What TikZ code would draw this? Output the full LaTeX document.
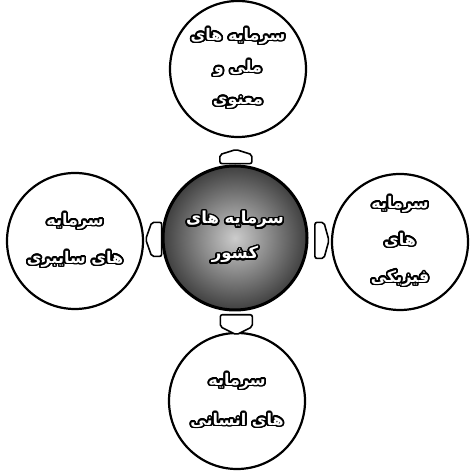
\documentclass[tikz,border=0pt]{standalone}
\usepackage{fontspec}
\newfontfamily\arabicfont[Script=Arabic]{DejaVu Sans}
\TeXXeTstate=1
\usepackage{contour}
\contourlength{1.7pt}
\contournumber{24}
\newcommand\fa[1]{\contour{black}{\arabicfont\bfseries\beginR #1\endR}}
\tikzset{
  outer/.style={circle, draw=black, line width=2.2pt, fill=white, inner sep=0pt,
    minimum size=136pt, align=center, text=white},
  middle/.style={circle, draw=black, line width=3pt, inner color=gray!40, outer color=black!75,
    inner sep=0pt, minimum size=144pt, align=center, text=white},
  conn/.style={draw=black, line width=1.6pt, fill=white, rounded corners=2pt},
}
\begin{document}
\begin{tikzpicture}[x=1pt,y=1pt]
\useasboundingbox[fill=white] (0,0) rectangle (470,473);
\node[middle, font=\fontsize{16.5}{35}\selectfont] (c) at (235,235) {\fa{سرمایه های}\\\fa{کشور}};
\node[outer, font=\fontsize{16}{32}\selectfont] (t) at (238,404) {\fa{سرمایه های}\\\fa{ملی و}\\\fa{معنوی}};
\node[outer, font=\fontsize{16}{38}\selectfont] (l) at (75,232) {\fa{سرمایه}\\\fa{های سایبری}};
\node[outer, font=\fontsize{16}{37}\selectfont] (r) at (400,231) {\fa{سرمایه}\\\fa{های}\\\fa{فیزیکی}};
\node[outer, font=\fontsize{16}{40}\selectfont] (b) at (237,72) {\fa{سرمایه}\\\fa{های انسانی}};
% connectors
\path (c.north) -- (t.south) coordinate[pos=0.3] (mt);
\path (c.west) -- (l.east) coordinate[pos=0.45] (ml);
\path (c.east) -- (r.west) coordinate[pos=0.6] (mr);
\path (c.south) -- (b.north) coordinate[pos=0.65] (mb);
\draw[conn, shift={(mt)}, rotate=90] (-7,-16) -- (2,-16) -- (7,0) -- (2,16) -- (-7,16) -- cycle;
\draw[conn, shift={(ml)}, rotate=180] (-8,-17) -- (2,-17) -- (8,0) -- (2,17) -- (-8,17) -- cycle;
\draw[conn, shift={(mr)}, rotate=0] (-7,-18) -- (2,-18) -- (7,0) -- (2,18) -- (-7,18) -- cycle;
\draw[conn, shift={(mb)}, rotate=-90] (-10,-16) -- (2,-16) -- (10,0) -- (2,16) -- (-10,16) -- cycle;
\end{tikzpicture}
\end{document}
